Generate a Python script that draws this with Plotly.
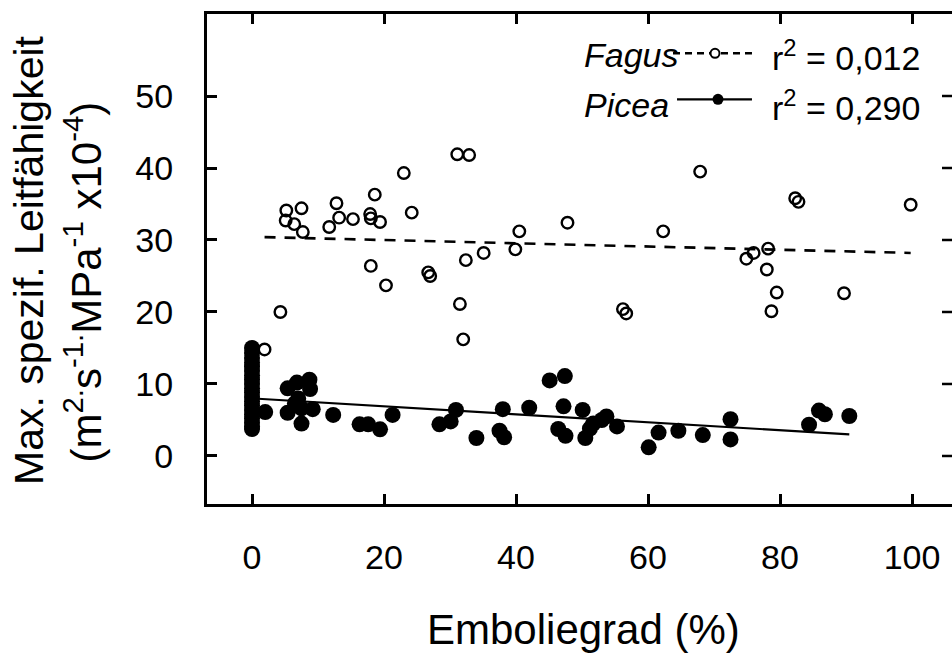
import plotly.graph_objects as go

# ---------------- data ----------------
fagus_x = [5.2, 7.5, 5.1, 6.4, 7.7, 11.7, 12.8, 13.2, 15.3, 17.9, 18.0, 19.4, 18.6, 23.0, 24.2,
           31.1, 32.9, 40.5, 47.8, 4.3, 1.9, 18.0, 20.3, 26.7, 27.0, 31.5, 32.0, 32.4, 35.1, 39.9,
           67.9, 62.3, 82.3, 82.8, 99.8, 74.9, 76.0, 78.2, 78.0, 79.5, 78.7, 89.7, 56.2, 56.7]
fagus_y = [34.1, 34.4, 32.7, 32.2, 31.1, 31.8, 35.1, 33.1, 32.9, 33.6, 33.0, 32.5, 36.3, 39.3, 33.8,
           41.9, 41.8, 31.2, 32.4, 20.0, 14.8, 26.4, 23.7, 25.5, 25.0, 21.1, 16.2, 27.2, 28.2, 28.7,
           39.5, 31.2, 35.8, 35.3, 34.9, 27.4, 28.2, 28.8, 25.9, 22.7, 20.1, 22.6, 20.4, 19.8]

picea_x = [0, 0, 0, 0, 0, 0, 0, 0, 0, 0, 0, 0, 0, 0, 0, 0, 0, 0, 0, 0,
           2.0, 5.4, 6.8, 8.7, 8.8, 7.0, 6.5, 5.4, 7.5, 9.2, 7.5, 12.3, 16.3, 17.6, 19.4, 21.3,
           28.4, 30.1, 30.9, 34.0, 37.5, 38.2, 38.0, 42.0, 45.1, 47.4, 47.2, 46.4, 47.5, 50.1,
           50.5, 51.2, 51.7, 53.0, 53.7, 55.3, 60.1, 61.6, 64.6, 68.3, 72.5, 72.5, 84.4, 85.9,
           86.8, 90.5]
picea_y = [15.0, 14.3, 13.6, 13.0, 12.4, 11.8, 11.2, 10.6, 10.0, 9.4, 8.8, 8.2, 7.6, 7.0, 6.4,
           5.8, 5.2, 4.6, 4.1, 3.75,
           6.1, 9.4, 10.2, 10.6, 9.3, 8.0, 7.3, 6.0, 6.6, 6.5, 4.5, 5.7, 4.4, 4.4, 3.7, 5.7,
           4.4, 4.8, 6.4, 2.5, 3.5, 2.6, 6.5, 6.7, 10.5, 11.1, 6.9, 3.75, 2.8, 6.4,
           2.5, 3.8, 4.5, 5.0, 5.5, 4.1, 1.2, 3.25, 3.5, 2.9, 5.1, 2.3, 4.35, 6.3,
           5.8, 5.55]

fagus_fit_x = [1.9, 99.8]
fagus_fit_y = [30.4, 28.2]
picea_fit_x = [0.0, 90.5]
picea_fit_y = [8.0, 3.0]

x_ticks = [0, 20, 40, 60, 80, 100]
y_ticks = [0, 10, 20, 30, 40, 50]
x_range = [-6.82, 106.06]
y_range = [-6.67, 61.39]

FONT = "Arial, Liberation Sans, Helvetica, sans-serif"

fig = go.Figure()

fig.add_trace(go.Scatter(x=fagus_fit_x, y=fagus_fit_y, mode="lines",
                         line=dict(color="black", width=2.6, dash="11px,9px"),
                         hoverinfo="skip", showlegend=False))
fig.add_trace(go.Scatter(x=fagus_x, y=fagus_y, mode="markers", name="Fagus",
                         marker=dict(symbol="circle-open", size=11.5, color="black",
                                     line=dict(width=2.4, color="black")),
                         showlegend=False))
fig.add_trace(go.Scatter(x=picea_x, y=picea_y, mode="markers", name="Picea",
                         marker=dict(symbol="circle", size=16, color="black",
                                     line=dict(width=0)),
                         showlegend=False))
fig.add_trace(go.Scatter(x=picea_fit_x, y=picea_fit_y, mode="lines",
                         line=dict(color="black", width=2.2),
                         hoverinfo="skip", showlegend=False))

axis_common = dict(showgrid=False, zeroline=False, ticks="inside", ticklen=10,
                   tickwidth=2.5, tickcolor="black", linecolor="black", linewidth=3,
                   tickfont=dict(family=FONT, size=34, color="black"))

fig.update_layout(
    width=952, height=657,
    margin=dict(l=207, r=0, t=14, b=153),
    paper_bgcolor="white", plot_bgcolor="white",
    showlegend=False,
    xaxis=dict(range=x_range, tickvals=x_ticks, showline=True, mirror="ticks",
               ticklabelstandoff=21, **axis_common),
    yaxis=dict(range=y_range, tickvals=y_ticks, showline=True, mirror=False,
               ticklabelstandoff=24, **axis_common),
)

# tick marks on the right-hand edge (the right frame line itself lies outside the picture)
for yt in y_ticks:
    fig.add_shape(type="line", xref="paper", yref="y", xsizemode="pixel", xanchor=1,
                  x0=-10, x1=0, y0=yt, y1=yt, line=dict(color="black", width=2.5), layer="above")

ann = []
# axis titles
ann.append(dict(text="Emboliegrad (%)", x=0.5054, y=-0.257, xref="paper", yref="paper",
                xanchor="center", yanchor="middle", showarrow=False,
                font=dict(family=FONT, size=42, color="black")))
ann.append(dict(text="Max. spezif. Leitfähigkeit", x=-0.2389, y=0.498, xref="paper", yref="paper",
                xanchor="center", yanchor="middle", showarrow=False, textangle=-90,
                font=dict(family=FONT, size=41, color="black")))
ann.append(dict(text="(m<sup>2.</sup>s<sup>-1.</sup>MPa<sup>-1</sup> x10<sup>-4</sup>)",
                x=-0.1664, y=0.452, xref="paper", yref="paper",
                xanchor="center", yanchor="middle", showarrow=False, textangle=-90,
                font=dict(family=FONT, size=42, color="black")))
# legend texts
for txt, xx, yy in [("<i>Fagus</i>", 0.503, 0.916), ("<i>Picea</i>", 0.503, 0.814),
                    ("r<sup>2</sup> = 0,012", 0.7557, 0.916), ("r<sup>2</sup> = 0,290", 0.7557, 0.814)]:
    ann.append(dict(text=txt, x=xx, y=yy, xref="paper", yref="paper", xanchor="left",
                    yanchor="middle", showarrow=False,
                    font=dict(family=FONT, size=34, color="black")))
fig.update_layout(annotations=ann)

# legend symbols
fig.add_shape(type="line", xref="paper", yref="paper", x0=0.6255, x1=0.7315, y0=0.9198, y1=0.9198,
              line=dict(color="black", width=2.4, dash="7px,5px"), layer="above")
fig.add_shape(type="circle", xref="paper", yref="paper", xsizemode="pixel", ysizemode="pixel",
              xanchor=0.6819, yanchor=0.9198, x0=-4.5, x1=4.5, y0=-4.5, y1=4.5,
              fillcolor="white", line=dict(color="black", width=2), layer="above")
fig.add_shape(type="line", xref="paper", yref="paper", x0=0.6309, x1=0.7315, y0=0.8259, y1=0.8259,
              line=dict(color="black", width=2.2), layer="above")
fig.add_shape(type="circle", xref="paper", yref="paper", xsizemode="pixel", ysizemode="pixel",
              xanchor=0.6859, yanchor=0.8259, x0=-5.5, x1=5.5, y0=-5.5, y1=5.5,
              fillcolor="black", line=dict(color="black", width=0), layer="above")

fig.write_html("out.html", config={"displayModeBar": False},
               post_script="document.body.style.margin='0';document.body.style.overflow='hidden';")
